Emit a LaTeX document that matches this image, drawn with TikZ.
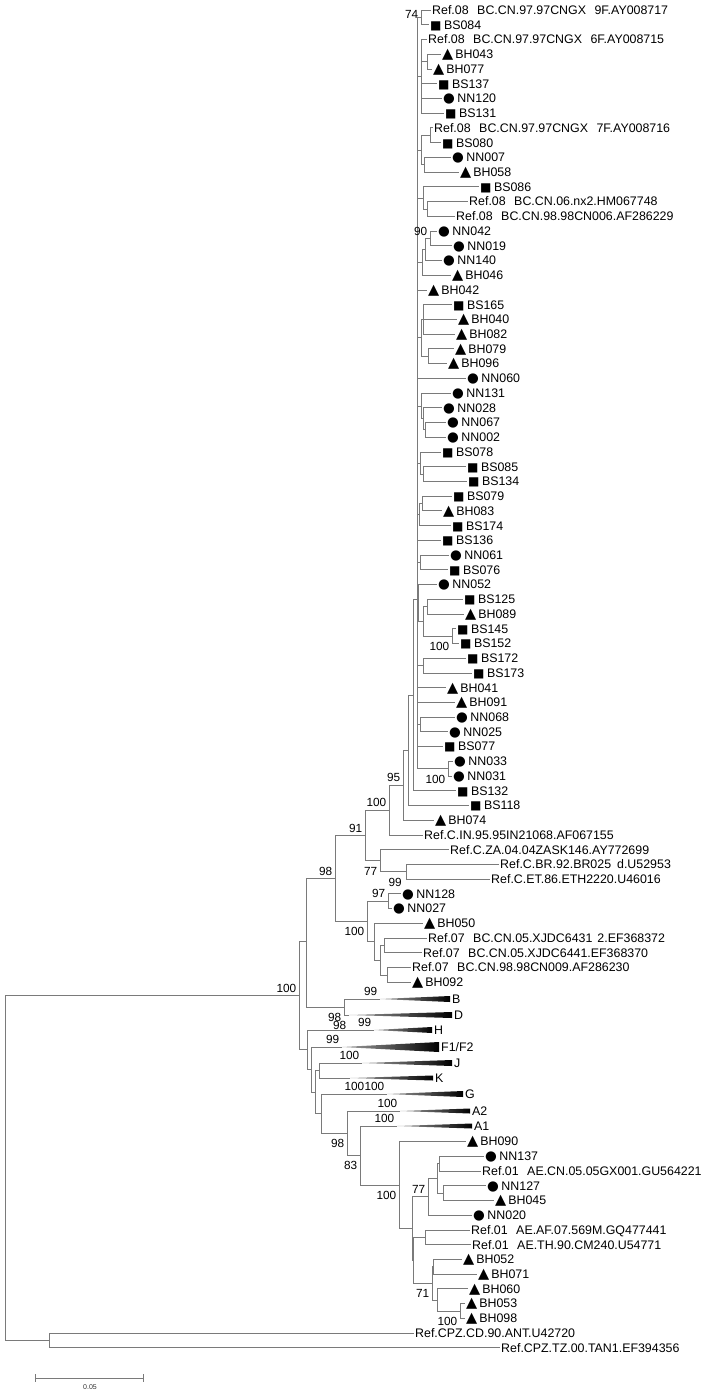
\documentclass[tikz,border=0pt]{standalone}
\usepackage{fontspec}
\setmainfont{Liberation Sans}
\newfontfamily\symfont{DejaVu Sans}
\definecolor{branch}{RGB}{122,122,122}
% leaf markers and the wide gap of the reference names
\newcommand{\mksq}{{\symfont\fontsize{12}{12}\selectfont ■}\hspace{2.5pt}}
\newcommand{\mktri}{{\symfont\fontsize{14.5}{14}\selectfont ▲}\hspace{2pt}}
\newcommand{\mkcirc}{{\symfont\fontsize{13.5}{13}\selectfont ●}\hspace{2.5pt}}
\newcommand{\gap}{\hspace{8.5pt}}

\begin{document}
\begin{tikzpicture}[x=1pt,y=-1pt,
    br/.style={draw=branch,line width=0.8pt},
    tip/.style={anchor=west,inner xsep=1pt,inner ysep=0pt,font=\fontsize{12.4}{14}\selectfont,text height=8.9pt,text depth=0pt},
    bsu/.style={anchor=south east,inner sep=0pt,xshift=-2.5pt,yshift=3pt,font=\fontsize{11.8}{13}\selectfont},
    bsd/.style={anchor=north east,inner sep=0pt,xshift=-2.5pt,yshift=-6pt,font=\fontsize{11.8}{13}\selectfont},
    wedge/.style={left color=branch!70,right color=black}]
  \useasboundingbox (0,0) rectangle (715,1392);

  % internal nodes: backbone and outgroup
  \coordinate (root) at (5,1167.9);   \coordinate (nCPZ) at (49,1340.4);
  \coordinate (nIn) at (299,995.5);   \coordinate (nCB) at (306,941.2);
  \coordinate (nL) at (307,1049.8);   \coordinate (nC07) at (335,878.4);
  \coordinate (nBD) at (344,1007);
  % subtype C and CRF07
  \coordinate (n91) at (365,835.4);   \coordinate (n100a) at (389,810);
  \coordinate (n77) at (380,860.7);   \coordinate (nBRET) at (406,871.7);
  \coordinate (n07) at (367,921.5);   \coordinate (n97) at (388,901.2);
  \coordinate (n07b) at (374,941.7);  \coordinate (nX) at (380,960.1);
  \coordinate (n6431) at (384,945.4); \coordinate (n9809) at (387,974.9);
  % CRF08 clade
  \coordinate (n95) at (403,785.2);   \coordinate (nP) at (408,750.2);
  \coordinate (nQ) at (413,694.9);    \coordinate (n08a) at (417,599);
  \coordinate (n74) at (421,17.4);    \coordinate (g1) at (421,76.3);
  \coordinate (n4377) at (427,61.6);  \coordinate (g2) at (421,150);
  \coordinate (n7F) at (430,135.2);   \coordinate (n0758) at (424,164.7);
  \coordinate (g3) at (423,197.9);    \coordinate (n14) at (427,208.9);
  \coordinate (g4) at (422,262.3);    \coordinate (n90b) at (425,249.4);
  \coordinate (n90) at (430,238.4);   \coordinate (g5) at (421,337.8);
  \coordinate (g5a) at (423,319.3);   \coordinate (n7996) at (428,356.2);
  \coordinate (g6) at (421,405.9);    \coordinate (n28) at (423,418.8);
  \coordinate (n6702) at (425,429.8); \coordinate (g7) at (420,463);
  \coordinate (n8534) at (423,474);   \coordinate (g8) at (419,514.6);
  \coordinate (n79) at (422,503.5);   \coordinate (g9) at (420,562.4);
  \coordinate (g10) at (418,602.9);   \coordinate (g10a) at (423,621.3);
  \coordinate (n125) at (427,606.6);  \coordinate (n145) at (452,636.1);
  \coordinate (g11) at (423,665.5);   \coordinate (g12) at (420,724.4);
  \coordinate (n3331) at (448,768.6);
  % other subtypes and CRF01
  \coordinate (n2) at (311,1069.5);   \coordinate (n3) at (315,1092.1);
  \coordinate (nJK) at (319,1070.5);  \coordinate (nGA) at (321,1113.6);
  \coordinate (nA) at (347,1133.3);   \coordinate (n83) at (360,1155.5);
  \coordinate (n01) at (399,1185.1);  \coordinate (nB) at (412,1228.6);
  \coordinate (n77b) at (428,1196.8); \coordinate (nD) at (437,1178.4);
  \coordinate (nE) at (439,1163.6);   \coordinate (nF) at (443,1193.1);
  \coordinate (nC) at (413,1260.3);   \coordinate (nAFTH) at (425,1237.3);
  \coordinate (nBH) at (432,1283.3);  \coordinate (nG) at (433,1266.7);
  \coordinate (nH) at (437,1299.9);   \coordinate (nI) at (460,1310.9);

  % collapsed subtypes
  \foreach \nm/\xa/\ya/\xe/\hh/\txt in {B/380/999/450/3/B, D/349/1015/452/3/D,
      H/374/1030/432/3/H, F/342/1047/439/5/{F1/F2}, J/362/1063/452/3/J,
      K/350/1078/433/2.5/K, G/387/1094/463/3/G, A2/400/1111/470/2.5/A2,
      A1/397/1126/472/2.5/A1}{
    \coordinate (a\nm) at (\xa,\ya);
    \shade[wedge] (a\nm) -- (\xe,\ya-\hh) -- (\xe,\ya+\hh) -- cycle;
    \node[tip] (c\nm) at (\xe+1,\ya) {\txt};
  }

  % leaves
  \foreach \nm/\x/\y/\lab in {bs084/429/24.7/BS084, bs137/437/83.7/BS137,
      bs131/444/113.1/BS131, bs080/441/142.6/BS080, bs086/479/186.8/BS086,
      bs165/452/304.6/BS165, bs078/441/451.9/BS078, bs085/466/466.6/BS085,
      bs134/467/481.4/BS134, bs079/452/496.1/BS079, bs174/451/525.6/BS174,
      bs136/441/540.3/BS136, bs076/448/569.7/BS076, bs125/463/599.2/BS125,
      bs145/456/628.7/BS145, bs152/459/643.4/BS152, bs172/466/658.1/BS172,
      bs173/472/672.9/BS173, bs077/443/746.5/BS077, bs132/456/790.7/BS132,
      bs118/469/805.4/BS118}
    \node[tip] (\nm) at (\x,\y) {\mksq\lab};
  \foreach \nm/\x/\y/\lab in {bh043/441/54.2/BH043, bh077/432/68.9/BH077,
      bh058/459/172/BH058, bh046/451/275.1/BH046, bh042/427/289.9/BH042,
      bh040/457/319.3/BH040, bh082/455/334.1/BH082, bh079/454/348.8/BH079,
      bh096/447/363.5/BH096, bh083/442/510.8/BH083, bh089/464/613.9/BH089,
      bh041/446/687.6/BH041, bh091/455/702.3/BH091, bh074/434/820.2/BH074,
      bh050/423/923.3/BH050, bh092/411/982.2/BH092, bh090/466/1141.5/BH090,
      bh045/494/1200.4/BH045, bh052/462/1259.3/BH052, bh071/477/1274.1/BH071,
      bh060/468/1288.8/BH060, bh053/465/1303.5/BH053, bh098/465/1318.2/BH098}
    \node[tip] (\nm) at (\x,\y) {\mktri\lab};
  \foreach \nm/\x/\y/\lab in {nn120/442/98.4/NN120, nn007/451/157.3/NN007,
      nn042/437/231/NN042, nn019/452/245.7/NN019, nn140/442/260.4/NN140,
      nn060/466/378.3/NN060, nn131/451/393/NN131, nn028/442/407.7/NN028,
      nn067/446/422.4/NN067, nn002/446/437.2/NN002, nn061/449/555/NN061,
      nn052/437/584.5/NN052, nn068/455/717/NN068, nn025/448/731.8/NN025,
      nn033/453/761.2/NN033, nn031/452/776/NN031, nn128/401/893.8/NN128,
      nn027/392/908.5/NN027, nn137/484/1156.2/NN137, nn127/486/1185.7/NN127,
      nn020/472/1215.1/NN020}
    \node[tip] (\nm) at (\x,\y) {\mkcirc\lab};
  \node[tip] (r08a) at (431,10) {Ref.08\gap BC.CN.97.97CNGX\gap 9F.AY008717};
  \node[tip] (r08b) at (427,39.5) {Ref.08\gap BC.CN.97.97CNGX\gap 6F.AY008715};
  \node[tip] (r08c) at (433,127.8) {Ref.08\gap BC.CN.97.97CNGX\gap 7F.AY008716};
  \node[tip] (r08d) at (468,201.5) {Ref.08\gap BC.CN.06.nx2.HM067748};
  \node[tip] (r08e) at (455,216.2) {Ref.08\gap BC.CN.98.98CN006.AF286229};
  \node[tip] (rcin) at (423,834.9) {Ref.C.IN.95.95IN21068.AF067155};
  \node[tip] (rcza) at (449,849.6) {Ref.C.ZA.04.04ZASK146.AY772699};
  \node[tip] (rcbr) at (499,864.3) {Ref.C.BR.92.BR025\hspace{6pt}d.U52953};
  \node[tip] (rcet) at (490,879.1) {Ref.C.ET.86.ETH2220.U46016};
  \node[tip] (r07a) at (427,938) {Ref.07\gap BC.CN.05.XJDC6431\hspace{5pt}2.EF368372};
  \node[tip] (r07b) at (422,952.7) {Ref.07\gap BC.CN.05.XJDC6441.EF368370};
  \node[tip] (r07c) at (411,967.5) {Ref.07\gap BC.CN.98.98CN009.AF286230};
  \node[tip] (r01a) at (481,1171) {Ref.01\gap AE.CN.05.05GX001.GU564221};
  \node[tip] (r01b) at (470,1229.9) {Ref.01\gap AE.AF.07.569M.GQ477441};
  \node[tip] (r01c) at (471,1244.6) {Ref.01\gap AE.TH.90.CM240.U54771};
  \node[tip] (rcpza) at (414,1333) {Ref.CPZ.CD.90.ANT.U42720};
  \node[tip] (rcpzb) at (500,1347.7) {Ref.CPZ.TZ.00.TAN1.EF394356};

  % branches, parent to child
  \foreach \p/\c in {root/nIn, root/nCPZ, nCPZ/rcpza, nCPZ/rcpzb, nIn/nCB, nIn/nL,
      nCB/nC07, nCB/nBD, nC07/n91, nC07/n07, n91/n100a, n91/n77, n100a/n95,
      n100a/rcin, n95/nP, n95/bh074, nP/nQ, nP/bs118, nQ/n08a, nQ/bs132,
      n77/rcza, n77/nBRET, nBRET/rcbr, nBRET/rcet, n07/n97, n07/n07b,
      n97/nn128, n97/nn027, n07b/bh050, n07b/nX, nX/n6431, nX/n9809,
      n6431/r07a, n6431/r07b, n9809/r07c, n9809/bh092, nBD/aB, nBD/aD}
    \draw[br] (\p) |- (\c);
  \foreach \c in {n74, g1, g2, g3, g4, bh042, g5, nn060, g6, g7, g8, bs136,
      g9, g10, g11, bh041, bh091, g12, bs077, n3331}
    \draw[br] (n08a) |- (\c);
  \foreach \p/\c in {n74/r08a, n74/bs084, g1/r08b, g1/n4377, g1/bs137, g1/nn120,
      g1/bs131, n4377/bh043, n4377/bh077, g2/n7F, g2/n0758, n7F/r08c, n7F/bs080,
      n0758/nn007, n0758/bh058, g3/bs086, g3/n14, n14/r08d, n14/r08e, g4/n90b,
      g4/bh046, n90b/n90, n90b/nn140, n90/nn042, n90/nn019, g5/g5a, g5/n7996,
      g5a/bs165, g5a/bh040, g5a/bh082, n7996/bh079, n7996/bh096, g6/nn131,
      g6/n28, n28/nn028, n28/n6702, n6702/nn067, n6702/nn002, g7/bs078,
      g7/n8534, n8534/bs085, n8534/bs134, g8/n79, g8/bs174, n79/bs079,
      n79/bh083, g9/nn061, g9/bs076, g10/nn052, g10/g10a, g10a/n125,
      g10a/n145, n125/bs125, n125/bh089, n145/bs145, n145/bs152, g11/bs172,
      g11/bs173, g12/nn068, g12/nn025, n3331/nn033, n3331/nn031}
    \draw[br] (\p) |- (\c);
  \foreach \p/\c in {nL/aH, nL/n2, n2/aF, n2/n3, n3/nJK, n3/nGA, nJK/aJ,
      nJK/aK, nGA/aG, nGA/nA, nA/aA2, nA/n83, n83/aA1, n83/n01, n01/bh090,
      n01/nB, nB/n77b, nB/nC, n77b/nD, n77b/nn020, nD/nE, nD/nF, nE/nn137,
      nE/r01a, nF/nn127, nF/bh045, nC/nAFTH, nC/nBH, nAFTH/r01b, nAFTH/r01c,
      nBH/nG, nBH/nH, nG/bh052, nG/bh071, nH/bh060, nH/nI, nI/bh053, nI/bh098}
    \draw[br] (\p) |- (\c);

  % bootstrap values
  \node[bsu,anchor=east,yshift=0pt] (b74) at (n74) {74};
  \foreach \at/\v in {n90/90, n95/95, n100a/100, n91/91, nC07/98, n97/97,
      nIn/100, aB/99, aH/99, aF/99, aJ/100, aG/100, aA2/100, aA1/100, n77b/77}
    \node[bsu] (b\at) at (\at) {\v};
  \foreach \at/\v in {n145/100, n3331/100, n77/77, n07/100, nBD/98, aD/98,
      nA/98, n83/83, n01/100, nBH/71, nI/100}
    \node[bsd] (b\at) at (\at) {\v};
  \node[bsu] (b99x) at (404.5,890) {99};
  \node[bsu] (bGx) at (367,1094) {100};

  % scale bar
  \coordinate (sbL) at (35,1378);  \coordinate (sbR) at (144,1378);
  \draw[br,|-|] (sbL) -- (sbR);
  \node[font=\fontsize{7}{8}\selectfont,text=black!80,inner sep=0pt] (sblab) at (90,1387) {0.05};
\end{tikzpicture}
\end{document}
